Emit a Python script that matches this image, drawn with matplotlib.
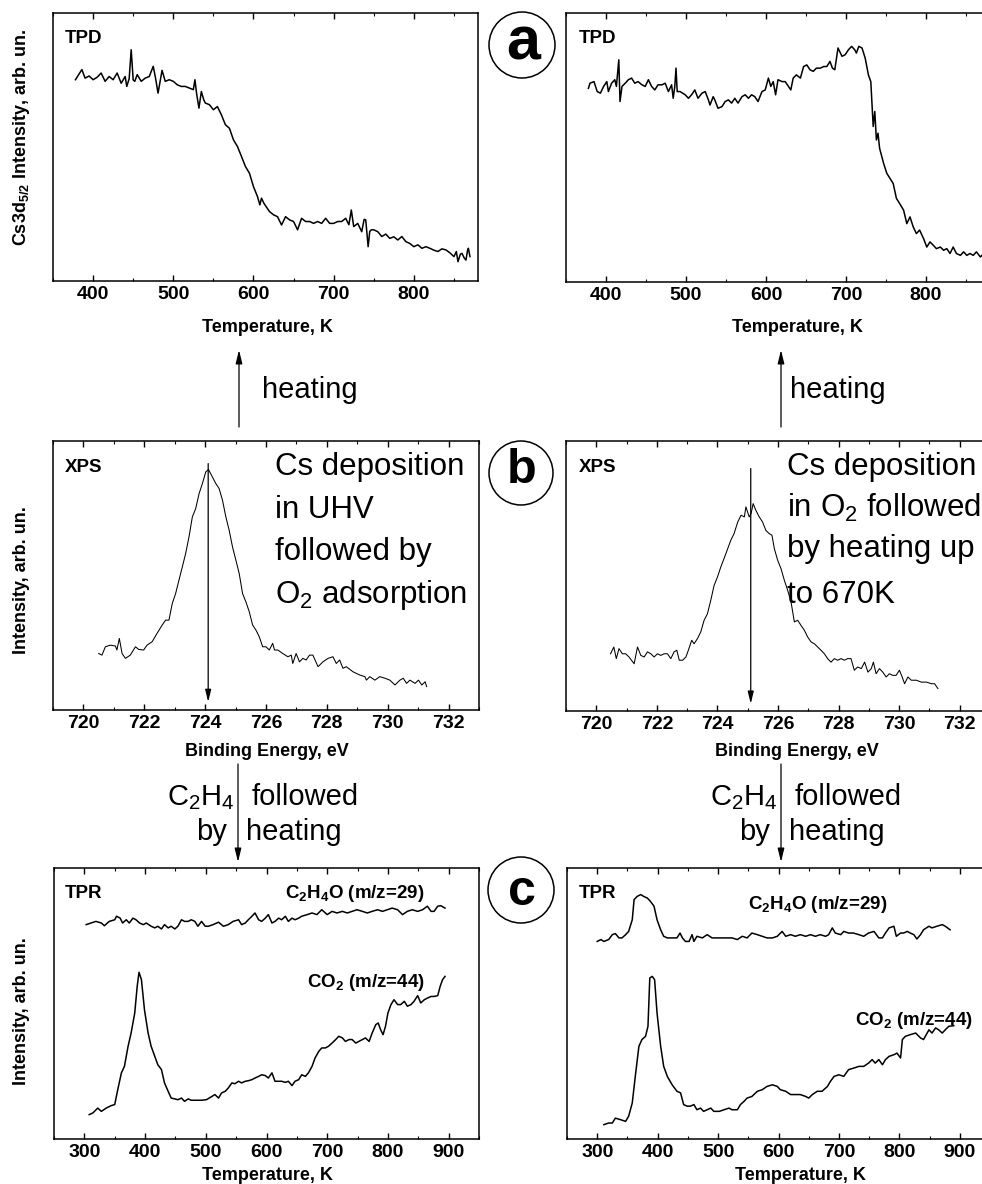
import matplotlib
matplotlib.use("Agg")
import matplotlib.pyplot as plt
from matplotlib.patches import Ellipse, FancyArrowPatch
from matplotlib.ticker import MultipleLocator


FIG_W, FIG_H = 982, 1184
DPI = 100

# (a) TPD, Cs3d5/2 intensity vs temperature, arb. units (0-100 = axis height)
TPD_UHV_T = [
    378, 386, 390, 395, 400, 405, 410, 415, 420, 425, 430, 435, 440, 442,
    445, 447.5, 450, 452, 455, 460, 465, 470, 475, 478, 481, 486, 490, 495,
    500, 505, 510, 515, 520, 525, 527, 529, 532, 535, 538, 540, 545, 550,
    555, 560, 565, 570, 575, 580, 585, 590, 595, 600, 605, 608, 610, 613,
    620, 625, 630, 635, 640, 645, 650, 655, 660, 665, 670, 675, 680, 685,
    690, 695, 700, 705, 710, 715, 719, 722, 725, 730, 735, 738, 740, 743,
    745, 747, 750, 755, 760, 765, 770, 775, 780, 785, 790, 795, 800, 805,
    810, 815, 820, 825, 830, 835, 840, 845, 850, 853, 855, 858, 860, 863,
    865, 867, 868, 870,
]
TPD_UHV_I = [
    75.1, 78.9, 75.7, 76.5, 75.1, 76.0, 77.6, 74.5, 76.3, 75.1, 77.6, 73.8,
    76.3, 72.6, 75.5, 86.3, 75.0, 74.5, 77.0, 74.5, 75.7, 76.3, 80.1, 75.5,
    70.1, 78.6, 74.5, 75.1, 74.5, 73.2, 72.6, 72.6, 72.0, 71.4, 75.1, 70.1,
    64.5, 70.7, 67.6, 66.4, 65.8, 63.9, 65.1, 62.0, 58.3, 57.0, 52.7, 50.2,
    46.5, 42.7, 40.2, 35.2, 31.5, 28.4, 30.9, 29.0, 25.9, 24.7, 24.0, 20.9,
    24.0, 22.8, 22.2, 19.1, 23.4, 22.2, 22.2, 21.5, 22.2, 21.5, 23.4, 21.5,
    21.5, 22.2, 22.2, 23.4, 21.0, 26.5, 20.3, 21.5, 18.4, 23.0, 22.8, 12.8,
    18.5, 19.1, 19.1, 18.4, 16.6, 17.5, 15.9, 16.5, 15.3, 16.6, 14.7, 14.0,
    12.8, 13.5, 12.2, 12.8, 12.2, 11.5, 11.0, 12.0, 11.6, 10.5, 9.1, 11.0,
    7.2, 10.0, 10.3, 8.5, 7.8, 11.5, 12.2, 9.1,
]

TPD_O2_T = [
    378, 380, 385, 389, 393, 397, 401, 403, 407, 411, 413, 416, 417.5, 420,
    424, 428, 432, 436, 440, 445, 449, 453, 457, 461, 465, 470, 474, 478,
    482, 484, 486, 487.5, 489, 492.5, 499, 503, 507, 511, 515, 520, 524,
    528, 530, 534, 536, 540, 545, 549, 553, 557, 561, 565, 570, 574, 578,
    582, 586, 590, 595, 599, 603, 606, 609, 612, 615, 620, 624, 628, 631,
    634, 638, 643, 647, 651, 655, 659, 663, 668, 672, 676, 680, 683, 686,
    690, 695, 699, 703, 707, 711, 713, 716, 720, 724, 728, 731, 734, 736,
    738, 740, 742, 747, 751, 755, 759, 763, 767, 772, 776, 780, 784, 788,
    792, 797, 801, 805, 809, 813, 818, 822, 826, 830, 834, 838, 843, 847,
    851, 855, 859, 863, 868, 872, 876, 880,
]
TPD_O2_I = [
    72.0, 73.9, 74.5, 70.8, 70.2, 72.7, 74.5, 70.8, 73.9, 75.2, 72.7, 82.6,
    67.1, 72.7, 73.9, 75.2, 75.8, 73.9, 74.5, 73.3, 72.7, 75.2, 72.7, 71.4,
    73.3, 73.3, 73.9, 70.8, 73.3, 68.3, 72.7, 79.5, 70.8, 70.8, 69.6, 68.3,
    69.6, 71.4, 68.3, 70.2, 70.8, 67.7, 65.8, 68.9, 67.7, 64.6, 65.2, 67.1,
    67.7, 66.5, 68.3, 66.5, 68.9, 69.6, 68.3, 69.6, 68.9, 67.1, 70.8, 71.4,
    75.8, 72.7, 74.5, 69.6, 75.2, 74.5, 74.5, 72.7, 71.4, 75.8, 77.0, 75.8,
    80.1, 80.7, 78.9, 78.3, 79.5, 79.5, 80.1, 80.1, 82.0, 79.5, 78.9, 87.0,
    83.9, 84.5, 86.3, 87.6, 86.3, 85.1, 87.6, 87.0, 83.2, 77.0, 74.5, 57.8,
    63.4, 52.8, 55.3, 49.7, 44.1, 40.4, 38.5, 36.6, 31.1, 29.2, 26.7, 21.7,
    24.2, 20.5, 18.0, 19.3, 16.1, 13.0, 14.9, 13.7, 12.4, 13.0, 11.8, 12.4,
    10.6, 13.0, 10.6, 9.9, 11.2, 9.9, 10.6, 9.9, 11.2, 9.3, 10.6, 9.9, 10.6,
]

# (b) XPS, Cs3d5/2 peak vs binding energy, eV
XPS_UHV_E = [
    720.50, 720.61, 720.72, 720.88, 721.05, 721.10, 721.18, 721.27, 721.38,
    721.54, 721.71, 721.82, 721.98, 722.09, 722.26, 722.42, 722.59, 722.70,
    722.81, 722.92, 723.03, 723.14, 723.25, 723.36, 723.47, 723.58, 723.69,
    723.80, 723.91, 724.02, 724.11, 724.24, 724.35, 724.46, 724.57, 724.68,
    724.79, 724.90, 725.01, 725.12, 725.23, 725.34, 725.45, 725.56, 725.67,
    725.78, 725.89, 726.00, 726.11, 726.22, 726.28, 726.39, 726.55, 726.72,
    726.83, 726.88, 726.99, 727.10, 727.21, 727.32, 727.43, 727.54, 727.71,
    727.87, 728.04, 728.20, 728.31, 728.42, 728.53, 728.64, 728.86, 729.08,
    729.25, 729.30, 729.41, 729.58, 729.74, 729.91, 730.07, 730.24, 730.40,
    730.51, 730.62, 730.73, 730.90, 731.01, 731.12, 731.23, 731.28,
]
XPS_UHV_I = [
    21.0, 20.4, 23.5, 24.1, 23.8, 22.3, 26.6, 21.0, 19.2, 20.4, 23.5, 22.5,
    22.3, 24.1, 25.4, 28.5, 31.6, 33.4, 33.4, 39.6, 43.3, 48.3, 53.2, 58.2,
    64.4, 71.8, 74.9, 80.4, 84.2, 88.5, 89.4, 86.6, 84.2, 82.3, 78.0, 71.8,
    66.8, 60.6, 55.7, 50.7, 43.3, 40.2, 36.5, 31.6, 29.7, 27.2, 23.5, 23.5,
    22.3, 24.8, 22.3, 22.3, 21.0, 19.8, 20.4, 17.3, 21.0, 17.9, 19.2, 18.6,
    20.4, 20.4, 16.1, 17.9, 19.2, 19.8, 17.3, 18.6, 15.5, 16.1, 14.2, 13.0,
    12.4, 11.1, 12.4, 11.1, 12.4, 11.8, 11.1, 9.3, 11.1, 11.8, 9.9, 11.1,
    9.9, 11.1, 9.3, 10.5, 8.7,
]
XPS_UHV_PEAK = 724.1

XPS_O2_E = [
    720.47, 720.58, 720.66, 720.75, 720.86, 720.97, 721.08, 721.25, 721.36,
    721.47, 721.58, 721.69, 721.80, 721.91, 722.02, 722.13, 722.24, 722.35,
    722.46, 722.57, 722.66, 722.74, 722.85, 722.96, 723.04, 723.15, 723.23,
    723.34, 723.45, 723.56, 723.67, 723.78, 723.89, 724.00, 724.11, 724.28,
    724.44, 724.55, 724.67, 724.78, 724.89, 724.94, 725.05, 725.11, 725.18,
    725.27, 725.38, 725.49, 725.60, 725.71, 725.80, 725.88, 725.99, 726.10,
    726.21, 726.32, 726.43, 726.54, 726.65, 726.76, 726.87, 726.98, 727.09,
    727.20, 727.31, 727.42, 727.53, 727.64, 727.75, 727.86, 727.97, 728.08,
    728.19, 728.30, 728.41, 728.52, 728.63, 728.75, 728.86, 728.97, 729.08,
    729.15, 729.24, 729.35, 729.46, 729.57, 729.68, 729.79, 729.90, 730.01,
    730.10, 730.18, 730.29, 730.40, 730.57, 730.73, 730.90, 731.07, 731.17,
    731.28,
]
XPS_O2_I = [
    21.2, 23.7, 19.4, 23.1, 21.2, 21.2, 20.0, 17.5, 23.7, 20.6, 20.0, 21.9,
    21.2, 20.0, 21.2, 20.6, 21.2, 21.2, 19.4, 21.9, 22.5, 18.8, 18.8, 20.0,
    22.5, 26.2, 24.9, 26.8, 29.3, 33.6, 36.0, 41.0, 46.5, 49.6, 53.3, 58.3,
    63.2, 65.7, 70.0, 72.5, 71.9, 75.6, 71.9, 73.1, 76.8, 74.3, 71.9, 70.0,
    66.9, 65.7, 65.1, 60.1, 55.8, 52.7, 48.4, 44.7, 40.4, 33.0, 33.6, 31.7,
    29.9, 27.4, 25.6, 24.9, 23.7, 22.5, 21.2, 19.4, 18.1, 19.4, 18.8, 19.4,
    18.8, 19.4, 19.4, 15.1, 16.3, 15.7, 18.1, 14.4, 15.7, 18.1, 13.8, 15.7,
    14.4, 12.6, 13.8, 13.2, 13.2, 15.1, 12.6, 10.1, 12.6, 11.4, 11.4, 10.7,
    10.7, 10.1, 10.1, 8.3,
]
XPS_O2_PEAK = 725.1

# (c) TPR after C2H4 adsorption, two masses per panel
TPR_UHV_ACET_T = [
    303, 311, 319, 328, 333, 341, 350, 353, 359, 363, 369, 374, 380, 385,
    391, 397, 402, 410, 416, 421, 427, 432, 438, 443, 449, 454, 460, 465,
    471, 476, 482, 487, 493, 499, 504, 512, 521, 529, 537, 545, 554, 559,
    565, 570, 576, 581, 587, 592, 598, 603, 609, 614, 620, 625, 631, 636,
    642, 647, 653, 658, 667, 675, 683, 691, 700, 708, 716, 725, 733, 741,
    749, 758, 766, 774, 783, 791, 799, 807, 816, 824, 832, 840, 849, 857,
    865, 871, 876, 882, 887, 894,
]
TPR_UHV_ACET_I = [
    79.1, 79.7, 80.3, 79.7, 78.7, 80.3, 80.9, 82.2, 81.5, 79.7, 80.9, 79.7,
    81.5, 80.9, 79.7, 79.1, 79.7, 78.5, 77.9, 78.5, 77.5, 79.1, 77.9, 78.5,
    77.5, 78.5, 80.9, 80.3, 80.3, 80.9, 80.3, 78.5, 80.3, 78.5, 78.5, 79.1,
    80.0, 78.5, 79.1, 80.3, 80.9, 79.1, 79.7, 80.9, 82.2, 83.4, 80.9, 80.3,
    81.5, 82.8, 79.7, 80.3, 81.5, 80.9, 82.2, 80.3, 81.5, 80.9, 81.5, 82.2,
    82.8, 83.4, 82.8, 84.6, 82.8, 84.0, 83.4, 84.0, 83.4, 84.0, 84.6, 84.0,
    83.4, 84.0, 84.6, 84.0, 84.6, 85.2, 84.6, 82.8, 84.0, 84.6, 84.0, 84.6,
    85.9, 84.0, 84.0, 85.9, 86.1, 85.2,
]
TPR_UHV_CO2_T = [
    308, 314, 322, 328, 336, 344, 350, 355, 361, 366, 372, 377, 383, 387,
    390, 394, 399, 405, 410, 416, 421, 427, 432, 438, 443, 449, 454, 460,
    465, 471, 476, 485, 493, 501, 510, 515, 521, 526, 532, 537, 543, 548,
    554, 559, 565, 570, 576, 581, 587, 592, 598, 603, 609, 614, 620, 625,
    631, 636, 642, 647, 653, 658, 664, 669, 675, 680, 686, 691, 697, 702,
    708, 714, 719, 725, 730, 736, 741, 747, 752, 758, 763, 769, 774, 780,
    784, 788, 792, 796, 800, 805, 810, 816, 821, 827, 832, 838, 843, 849,
    854, 860, 865, 871, 876, 882, 886, 890, 894,
]
TPR_UHV_CO2_I = [
    9.0, 9.6, 11.4, 10.2, 11.4, 12.3, 12.7, 18.2, 24.4, 26.8, 34.2, 39.1,
    46.5, 56.3, 61.5, 58.8, 47.7, 39.1, 34.2, 30.5, 27.4, 25.6, 20.7, 17.6,
    15.1, 14.8, 14.5, 15.1, 13.9, 14.8, 14.3, 14.3, 14.3, 14.5, 15.7, 16.4,
    15.1, 17.0, 17.6, 18.8, 20.7, 20.4, 21.3, 20.7, 21.3, 21.5, 21.9, 22.5,
    23.1, 23.7, 23.4, 22.5, 24.4, 21.3, 21.3, 21.3, 20.9, 21.3, 19.7, 21.3,
    21.9, 23.7, 23.1, 24.4, 26.8, 29.9, 32.3, 33.6, 33.6, 34.2, 35.4, 36.7,
    37.9, 37.3, 36.0, 36.7, 36.7, 35.4, 36.0, 36.7, 37.3, 36.0, 39.1, 42.2,
    42.8, 40.3, 38.5, 41.6, 46.5, 49.6, 51.4, 49.6, 49.6, 50.8, 49.0, 49.6,
    50.8, 52.9, 50.2, 51.4, 52.0, 52.6, 52.6, 52.9, 56.3, 58.8, 60.0,
]

TPR_O2_ACET_T = [
    300, 306, 311, 319, 325, 330, 336, 341, 347, 352, 358, 361, 366, 372,
    377, 383, 388, 394, 399, 405, 410, 416, 424, 432, 437, 441, 446, 452,
    457, 460, 465, 474, 482, 490, 499, 507, 515, 523, 532, 540, 548, 556,
    565, 573, 581, 590, 598, 606, 612, 620, 628, 636, 645, 653, 661, 669,
    678, 683, 689, 694, 703, 708, 716, 724, 733, 741, 749, 758, 766, 772,
    777, 783, 791, 795, 802, 807, 813, 818, 824, 829, 835, 840, 849, 854,
    862, 871, 876, 884,
]
TPR_O2_ACET_I = [
    72.9, 73.6, 72.9, 73.6, 75.4, 75.8, 74.2, 74.2, 75.4, 76.6, 80.9, 88.3,
    89.5, 90.2, 89.5, 88.9, 87.7, 85.9, 80.9, 77.2, 74.8, 74.2, 74.2, 74.2,
    76.0, 74.2, 72.9, 72.9, 75.4, 72.9, 74.8, 74.2, 75.4, 74.2, 74.2, 74.2,
    74.2, 74.2, 73.6, 74.8, 74.2, 76.0, 75.4, 74.8, 74.2, 74.2, 74.8, 76.6,
    74.8, 75.4, 74.8, 75.4, 74.8, 75.4, 74.8, 75.4, 74.8, 75.4, 77.9, 76.0,
    75.4, 76.6, 76.0, 76.0, 75.4, 74.8, 76.0, 76.6, 74.2, 74.2, 76.0, 77.9,
    78.5, 74.8, 76.0, 76.0, 76.6, 76.0, 75.4, 73.8, 75.4, 77.2, 78.5, 77.9,
    78.5, 79.1, 78.5, 77.2,
]
TPR_O2_CO2_T = [
    311, 319, 325, 330, 339, 347, 352, 358, 363, 369, 374, 380, 384, 387,
    391, 395, 399, 405, 410, 416, 424, 432, 438, 443, 449, 454, 460, 465,
    471, 476, 482, 488, 493, 502, 510, 518, 523, 532, 537, 543, 548, 556,
    565, 573, 581, 590, 598, 603, 612, 620, 628, 636, 645, 650, 656, 664,
    672, 681, 686, 692, 700, 708, 716, 725, 733, 741, 749, 755, 760, 766,
    772, 777, 783, 791, 796, 802, 805, 810, 818, 827, 835, 840, 849, 854,
    860, 865, 871, 876, 882, 890,
]
TPR_O2_CO2_I = [
    5.3, 5.9, 5.9, 7.7, 7.1, 6.5, 8.4, 13.3, 23.1, 34.2, 36.7, 37.9, 41.6,
    59.4, 60.0, 58.8, 46.5, 34.2, 26.8, 23.1, 20.0, 17.6, 17.0, 12.7, 12.1,
    12.1, 12.7, 10.8, 11.4, 10.2, 10.8, 11.4, 10.2, 10.2, 10.8, 11.4, 10.8,
    10.8, 12.7, 13.9, 15.1, 15.7, 17.6, 18.2, 19.4, 20.0, 19.4, 18.2, 17.6,
    16.4, 16.4, 16.4, 15.7, 15.1, 16.4, 17.6, 17.6, 19.4, 21.3, 23.1, 23.7,
    23.1, 25.6, 26.2, 26.8, 26.8, 28.0, 29.3, 28.0, 29.3, 27.4, 29.3, 30.5,
    31.1, 31.7, 29.9, 36.7, 37.9, 38.5, 39.1, 37.3, 36.7, 40.3, 39.1, 41.0,
    40.3, 39.1, 40.3, 41.6, 41.8,
]


def fig_xy(x, y):
    """Pixel position in the 982x1184 picture -> figure fraction."""
    return x / FIG_W, 1 - y / FIG_H


def axes_rect(left, top, right, bottom):
    return [left / FIG_W, 1 - bottom / FIG_H,
            (right - left) / FIG_W, (bottom - top) / FIG_H]


def style_axes(ax, xlim, major, minor):
    ax.set_xlim(*xlim)
    ax.set_ylim(0, 100)
    ax.set_yticks([])
    ax.xaxis.set_major_locator(MultipleLocator(major))
    ax.xaxis.set_minor_locator(MultipleLocator(minor))
    ax.tick_params(axis="x", which="both", direction="in", top=True,
                   labelsize=14, pad=3.5, color="black")
    ax.tick_params(axis="x", which="major", length=4.5, width=1.0)
    ax.tick_params(axis="x", which="minor", length=2.5, width=0.8)
    for spine in ax.spines.values():
        spine.set_linewidth(1.1)


def fig_text(fig, x, y, s, **kw):
    fig.text(*fig_xy(x, y), s, **kw)


def circled_letter(fig, letter, cx, cy, r, baseline, size):
    fig.add_artist(Ellipse(fig_xy(cx, cy), 2 * r / FIG_W, 2 * r / FIG_H,
                           transform=fig.transFigure, fill=False,
                           lw=1.1, color="black"))
    fig_text(fig, cx + 1, baseline, letter, fontsize=size,
             ha="center", va="baseline")


def fig_arrow(fig, start, end):
    fig.add_artist(FancyArrowPatch(
        fig_xy(*start), fig_xy(*end), transform=fig.transFigure,
        arrowstyle="-|>,head_length=0.9,head_width=0.22", mutation_scale=9,
        lw=0.9, color="black", shrinkA=0, shrinkB=0))


def main() -> None:
    plt.rcParams["font.family"] = ["Liberation Sans", "DejaVu Sans"]
    plt.rcParams["font.weight"] = "bold"
    plt.rcParams["mathtext.fontset"] = "custom"
    plt.rcParams["mathtext.rm"] = "Liberation Sans:weight=normal"
    plt.rcParams["mathtext.bf"] = "Liberation Sans:weight=bold"
    plt.rcParams["mathtext.default"] = "rm"

    fig = plt.figure(figsize=(FIG_W / DPI, FIG_H / DPI), dpi=DPI)

    # --- row a: TPD
    ax = fig.add_axes(axes_rect(53, 13, 478, 281))
    ax.plot(TPD_UHV_T, TPD_UHV_I, color="black", lw=1.1)
    style_axes(ax, (350, 880), 100, 50)

    ax = fig.add_axes(axes_rect(566, 13, 990, 282))
    ax.plot(TPD_O2_T, TPD_O2_I, color="black", lw=1.1)
    style_axes(ax, (350, 880), 100, 50)

    # --- row b: XPS
    head = "-|>,head_length=0.9,head_width=0.22"
    ax = fig.add_axes(axes_rect(53, 441, 479, 710))
    ax.plot(XPS_UHV_E, XPS_UHV_I, color="black", lw=0.75)
    ax.annotate("", xy=(XPS_UHV_PEAK, 3.0), xytext=(XPS_UHV_PEAK, 91.6),
                arrowprops=dict(arrowstyle=head, mutation_scale=8, lw=0.9,
                                color="black", shrinkA=0, shrinkB=0))
    style_axes(ax, (719, 733), 2, 1)

    ax = fig.add_axes(axes_rect(566, 441, 990, 711))
    ax.plot(XPS_O2_E, XPS_O2_I, color="black", lw=0.75)
    ax.annotate("", xy=(XPS_O2_PEAK, 2.7), xytext=(XPS_O2_PEAK, 89.8),
                arrowprops=dict(arrowstyle=head, mutation_scale=8, lw=0.9,
                                color="black", shrinkA=0, shrinkB=0))
    style_axes(ax, (719, 733), 2, 1)

    # --- row c: TPR
    ax = fig.add_axes(axes_rect(54, 868, 479, 1139))
    ax.plot(TPR_UHV_ACET_T, TPR_UHV_ACET_I, color="black", lw=1.1)
    ax.plot(TPR_UHV_CO2_T, TPR_UHV_CO2_I, color="black", lw=1.1)
    style_axes(ax, (250, 950), 100, 50)

    ax = fig.add_axes(axes_rect(567, 868, 990, 1139))
    ax.plot(TPR_O2_ACET_T, TPR_O2_ACET_I, color="black", lw=1.1)
    ax.plot(TPR_O2_CO2_T, TPR_O2_CO2_I, color="black", lw=1.1)
    style_axes(ax, (250, 950), 100, 50)

    # axis titles
    label = dict(fontsize=13, ha="center", va="center")
    fig_text(fig, 267, 328, "Temperature, K", **label)
    fig_text(fig, 797, 328, "Temperature, K", **label)
    fig_text(fig, 267, 752, "Binding Energy, eV", **label)
    fig_text(fig, 797, 752, "Binding Energy, eV", **label)
    fig_text(fig, 267, 1176, "Temperature, K", **label)
    fig_text(fig, 800, 1176, "Temperature, K", **label)
    fig_text(fig, 22, 137, r"Cs3d$_\mathbf{5/2}$ Intensity, arb. un.",
             rotation=90, **label)
    fig_text(fig, 22, 580, "Intensity, arb. un.", rotation=90, **label)
    fig_text(fig, 22, 1011, "Intensity, arb. un.", rotation=90, **label)

    # method tags inside the frames
    tag = dict(fontsize=13.5, ha="left", va="baseline")
    for x in (65, 579):
        fig_text(fig, x, 43, "TPD", **tag)
        fig_text(fig, x, 472, "XPS", **tag)
        fig_text(fig, x, 898, "TPR", **tag)

    mass = dict(fontsize=13.5, ha="left", va="baseline")
    fig_text(fig, 285, 898, r"C$_\mathbf{2}$H$_\mathbf{4}$O (m/z=29)", **mass)
    fig_text(fig, 307, 987, r"CO$_\mathbf{2}$ (m/z=44)", **mass)
    fig_text(fig, 748, 909, r"C$_\mathbf{2}$H$_\mathbf{4}$O (m/z=29)", **mass)
    fig_text(fig, 855, 1025, r"CO$_\mathbf{2}$ (m/z=44)", **mass)

    # preparation descriptions
    big = dict(fontsize=22.5, fontweight="normal", ha="left", va="baseline")
    left_lines = ["Cs deposition", "in UHV", "followed by",
                  r"O$_2$ adsorption"]
    right_lines = ["Cs deposition", r"in O$_2$ followed", "by heating up",
                   "to 670K"]
    for s, y in zip(left_lines, (475, 518, 560, 603)):
        fig_text(fig, 275, y, s, **big)
    for s, y in zip(right_lines, (475, 517, 557, 603)):
        fig_text(fig, 787, y, s, **big)

    # arrows between rows
    step = dict(fontsize=21, fontweight="normal", va="baseline")
    fig_arrow(fig, (239, 427), (239, 350))
    fig_arrow(fig, (781, 427), (781, 350))
    fig_text(fig, 262, 398, "heating", ha="left", **step)
    fig_text(fig, 790, 398, "heating", ha="left", **step)

    for x_line, shift in ((238, 0), (781, 543)):
        fig_arrow(fig, (x_line, 764), (x_line, 862))
        fig_text(fig, 235 + shift, 805, r"C$_2$H$_4$", ha="right", **step)
        fig_text(fig, 252 + shift, 805, "followed", ha="left", **step)
        fig_text(fig, 227 + shift, 840, "by", ha="right", **step)
        fig_text(fig, 246 + shift, 840, "heating", ha="left", **step)

    circled_letter(fig, "a", 522, 45, 33, 60, 44)
    circled_letter(fig, "b", 521, 473, 32, 483, 35)
    circled_letter(fig, "c", 521, 890, 33, 905, 36)

    fig.savefig("out.png", dpi=DPI)
    plt.close(fig)


if __name__ == "__main__":
    main()
